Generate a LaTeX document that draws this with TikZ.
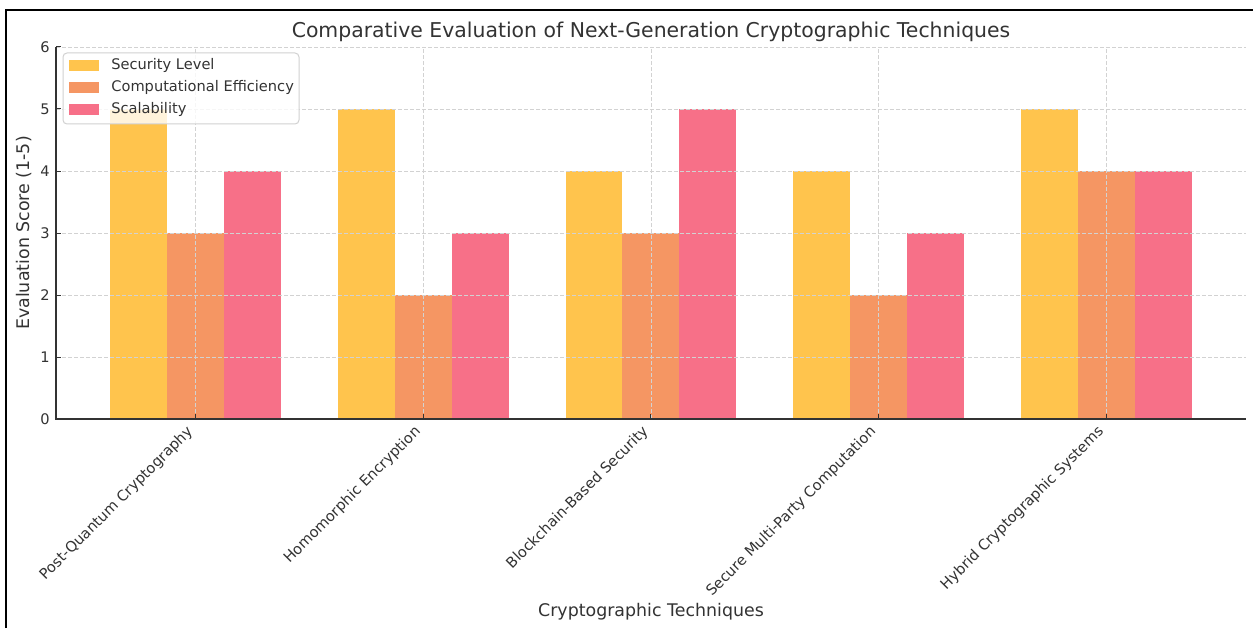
\documentclass[tikz,border=0pt]{standalone}
\usepackage{fontspec}
\setmainfont{DejaVu Sans}
\usetikzlibrary{calc}

\definecolor{secCol}{HTML}{FFC44D}
\definecolor{compCol}{HTML}{F59663}
\definecolor{scalCol}{HTML}{F77088}
\definecolor{txtCol}{HTML}{333333}
\definecolor{gridCol}{HTML}{D2D2D2}

\begin{document}
\begin{tikzpicture}[x=0.5pt,y=0.5pt,
    ticklbl/.style={text=txtCol,inner sep=0pt,font=\fontsize{7.3}{8}\selectfont},
    axislbl/.style={text=txtCol,inner sep=0pt,font=\fontsize{8.7}{10}\selectfont},
    gridln/.style={gridCol,line width=0.4pt,dash pattern=on 2pt off 1pt}]

\useasboundingbox (0,0) rectangle (1253,628);
\fill[white] (0,0) rectangle (1253,628);

%plot info (pixels, y up from the bottom)
\def\xo{195.5}
\def\yo{209}
\def\dx{227.7}
\def\dy{62}
\def\bw{0.25}
%axis corners
\coordinate (O)  at ({\xo-0.6125*\dx},\yo);
\coordinate (XE) at ({\xo+4.6125*\dx},\yo);
\coordinate (YE) at ({\xo-0.6125*\dx},{\yo+6*\dy});

%frame of the screenshot
\draw[line width=1pt] (6,0) -- (6,618) -- (1253,618);

%bars
\foreach \name/\a/\b/\c [count = \i from 0] in {Post-Quantum Cryptography/5/3/4,Homomorphic Encryption/5/2/3,Blockchain-Based Security/4/3/5,Secure Multi-Party Computation/4/2/3,Hybrid Cryptographic Systems/5/4/4}{
    \def\xc{(\xo+\i*\dx)}
    \fill[secCol]  ({\xc-1.5*\bw*\dx},\yo) rectangle ({\xc-0.5*\bw*\dx},{\yo+\a*\dy});
    \fill[compCol] ({\xc-0.5*\bw*\dx},\yo) rectangle ({\xc+0.5*\bw*\dx},{\yo+\b*\dy});
    \fill[scalCol] ({\xc+0.5*\bw*\dx},\yo) rectangle ({\xc+1.5*\bw*\dx},{\yo+\c*\dy});
    \coordinate (tk\i) at ({\xc},\yo);
    %grid, ticks and labels
    \draw[gridln] (tk\i) -- ++(0,{6*\dy});
    \draw[txtCol,line width=0.5pt] (tk\i) -- ++(0,5);
    \node[ticklbl,rotate=45,anchor=north east] (cat\i) at ($(tk\i)+(-10,-5)$) {\name};
}
\foreach \v in {0,...,6}{
    \coordinate (yt\v) at ($(O)+(0,{\v*\dy})$);
    \ifnum\v>0 \draw[gridln] (yt\v) -- ($(XE)+(0,{\v*\dy})$); \fi
    \draw[txtCol,line width=0.5pt] (yt\v) -- ++(5,0);
    \node[ticklbl,anchor=east] (yl\v) at ($(yt\v)+(-6,0)$) {\v};
}

%spines
\draw[txtCol,line width=0.7pt] (YE) -- (O) -- (XE);

%titles
\node[axislbl,font=\fontsize{10.2}{12}\selectfont] (title) at (651,596) {Comparative Evaluation of Next-Generation Cryptographic Techniques};
\node[axislbl] (xlab) at (651,16) {Cryptographic Techniques};
\node[axislbl,rotate=90] (ylab) at (24,395) {Evaluation Score (1-5)};

%legend
\draw[black!18,fill=white,fill opacity=0.8,rounded corners=2pt,line width=0.5pt] (63,504) rectangle (299,575);
\foreach \col/\txt [count = \i from 0] in {secCol/Security Level,compCol/Computational Efficiency,scalCol/Scalability}{
    \fill[\col] (69,{568-22*\i}) rectangle (99,{557-22*\i});
    \node[ticklbl,anchor=west] (leg\i) at (111,{562.5-22*\i}) {\txt};
}

\end{tikzpicture}
\end{document}
